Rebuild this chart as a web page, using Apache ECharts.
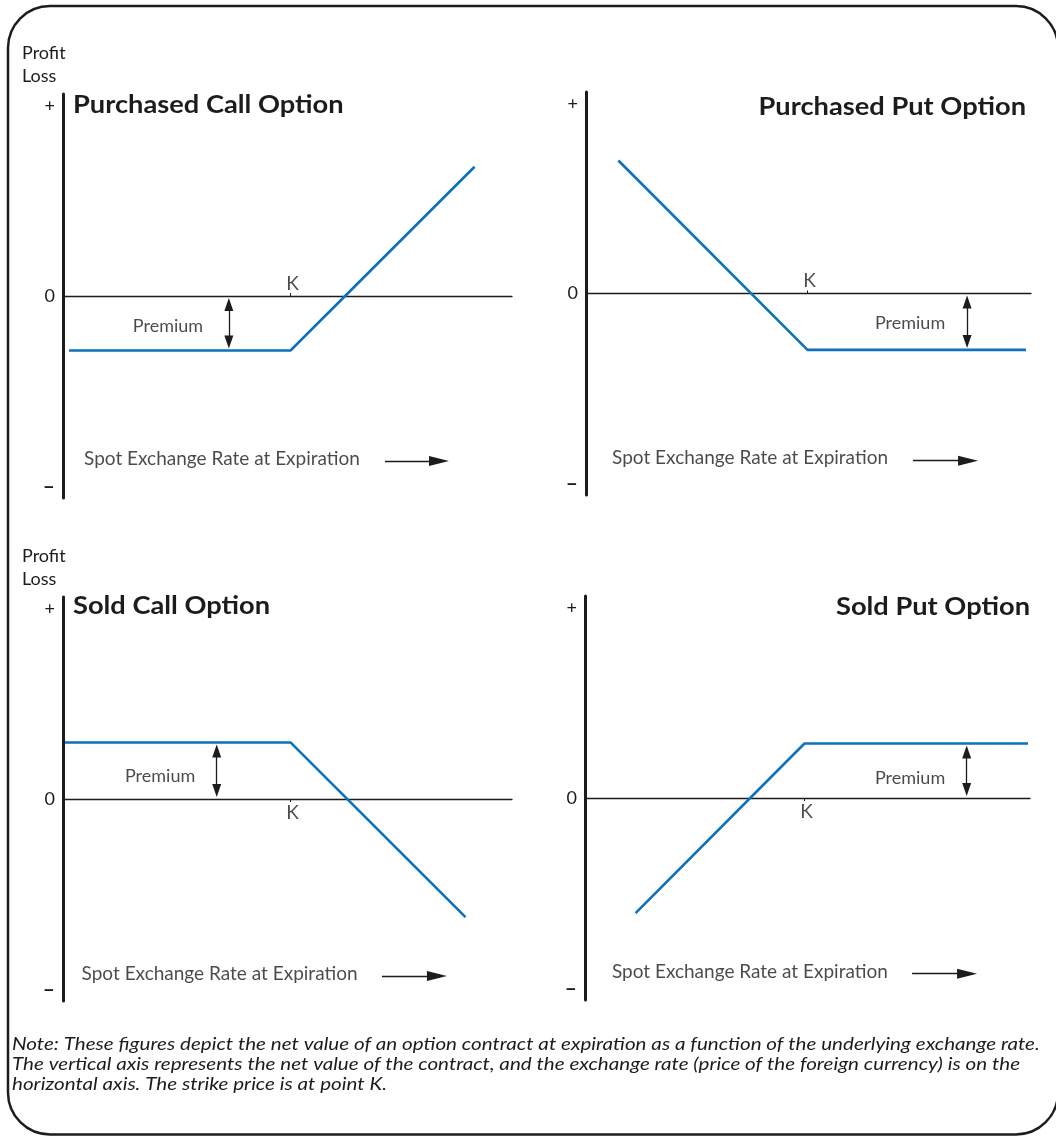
<!DOCTYPE html>
<html>
<head>
<meta charset="utf-8">
<script src="https://cdn.jsdelivr.net/npm/echarts@6.0.0/dist/echarts.min.js"></script>
<style>
html,body{margin:0;padding:0;background:#fff;}
#chart{width:1056px;height:1136px;}
</style>
</head>
<body>
<div id="chart"></div>
<script>
// ---- data ----
const panelTitles = ['Purchased Call Option', 'Purchased Put Option', 'Sold Call Option', 'Sold Put Option'];
const strikeK = [112.5, 109.5, 112.5, 108.5];
const premiums = [27, 28, 28, 27];
const payoffPurchasedCall = [[3, -27], [112.5, -27], [203.5, 64]];
const payoffPurchasedPut = [[16, 66], [109.5, -28], [217.5, -28]];
const payoffSoldCall = [[1, 28], [112.5, 28], [199, -58.5]];
const payoffSoldPut = [[25, -57], [108.5, 27], [219, 27]];
const yTickValues = [94, 0, -94];
const yTickLabels = ['+', '0', '\u2013'];
const xAxisLabel = 'Spot Exchange Rate at Expiration';
const premiumLabel = 'Premium';
const strikeLabel = 'K';
const yAxisNames = ['Profit', 'Loss'];
const noteLines = [
  'Note: These figures depict the net value of an option contract at expiration as a function of the underlying exchange rate.',
  'The vertical axis represents the net value of the contract, and the exchange rate (price of the foreign currency) is on the',
  'horizontal axis. The strike price is at point K.'
];
const payoffs = [payoffPurchasedCall, payoffPurchasedPut, payoffSoldCall, payoffSoldPut];

// ---- layout / style ----
const FONT = 'Lato, "Noto Sans", sans-serif';
const INK = '#1e1b1c';
const BLUE = '#0b72bb';
const layout = [
  {left: 63, top: 94, width: 449, height: 404, xMax: 222, purchased: true, titleX: 73, titleAlign: 'left', titleY: 105,
   premiumText: [51.9, -14.9], premiumArrowX: 82, spotText: [10.4, -80.7], spotArrow: [159.2, 185.9, -81.7]},
  {left: 586, top: 92, width: 445, height: 403, xMax: 220, purchased: true, titleX: 1026, titleAlign: 'right', titleY: 107,
   premiumText: [160.2, -14.6], premiumArrowX: 188.4, spotText: [12.9, -81.6], spotArrow: [161.7, 188.9, -83]},
  {left: 63, top: 597, width: 449, height: 404, xMax: 222, purchased: false, titleX: 73, titleAlign: 'left', titleY: 606,
   premiumText: [48, 11.4], premiumArrowX: 76, spotText: [9.2, -86.6], spotArrow: [157.7, 184.9, -87.6]},
  {left: 585, top: 596, width: 445, height: 404, xMax: 220, purchased: false, titleX: 1030, titleAlign: 'right', titleY: 607,
   premiumText: [160.7, 9.9], premiumArrowX: 188.7, spotText: [13.3, -86.1], spotArrow: [161.7, 188.9, -87]}
];

const grids = [], xAxes = [], yAxes = [], series = [], graphics = [];

layout.forEach((L, i) => {
  grids.push({left: L.left, top: L.top, width: L.width, height: L.height, containLabel: false});
  xAxes.push({
    type: 'value', gridIndex: i, min: 0, max: L.xMax,
    axisLine: {show: true, onZero: true, lineStyle: {color: INK, width: 1.3}},
    axisTick: {show: true, customValues: [strikeK[i]], inside: L.purchased, length: 3, lineStyle: {color: INK, width: 1}},
    axisLabel: {show: false},
    splitLine: {show: false}
  });
  yAxes.push({
    type: 'value', gridIndex: i, min: -100, max: 100,
    axisLine: {show: true, onZero: false, lineStyle: {color: INK, width: 3}},
    axisTick: {show: false},
    axisLabel: {show: true, customValues: yTickValues, margin: 8, color: INK, fontFamily: FONT, fontSize: 18,
      formatter: v => {
        const t = yTickLabels[yTickValues.indexOf(v)];
        return v < 0 ? '{d|' + t + '}' : t;
      },
      rich: {d: {fontWeight: 'bold', fontSize: 21, color: INK, fontFamily: FONT}}},
    splitLine: {show: false}
  });

  const sy = L.height / 200;
  const inset = 8.5 / sy;
  const p = premiums[i];
  const lo = L.purchased ? -p : 0, hi = L.purchased ? 0 : p;

  series.push({
    type: 'line', xAxisIndex: i, yAxisIndex: i, data: payoffs[i], symbol: 'none',
    lineStyle: {color: BLUE, width: 2.6}, itemStyle: {color: BLUE}, silent: true, animation: false, z: 5,
    markLine: {
      silent: true, animation: false, symbol: ['triangle', 'triangle'], symbolSize: [9, 13],
      label: {show: false}, lineStyle: {color: INK, width: 1.3, type: 'solid'},
      data: [
        [{coord: [L.premiumArrowX, hi - inset]}, {coord: [L.premiumArrowX, lo + inset]}],
        [{coord: [L.spotArrow[0], L.spotArrow[2]], symbol: 'none'},
         {coord: [L.spotArrow[1], L.spotArrow[2]], symbol: 'triangle', symbolSize: [10, 20]}]
      ]
    }
  });
  series.push({
    type: 'scatter', xAxisIndex: i, yAxisIndex: i, symbolSize: 0, silent: true, animation: false,
    data: [
      {value: L.premiumText, name: premiumLabel,
       label: {show: true, position: 'inside', formatter: '{b}', color: INK, fontFamily: FONT, fontSize: 18}},
      {value: L.spotText, name: xAxisLabel,
       label: {show: true, position: 'right', distance: 0, formatter: '{b}', color: INK, fontFamily: FONT, fontSize: 19}},
      {value: [strikeK[i], 0], name: strikeLabel,
       label: {show: true, position: L.purchased ? 'top' : 'bottom', distance: L.purchased ? 3 : 4, offset: [2, 0],
         formatter: '{b}', color: INK, fontFamily: FONT, fontSize: 19}}
    ]
  });
  graphics.push({
    type: 'text', x: L.titleX, y: L.titleY, scaleX: 1.09, scaleY: 1,
    style: {text: panelTitles[i], fill: INK, font: 'bold 25px ' + FONT, textAlign: L.titleAlign, textVerticalAlign: 'middle'}
  });
});

// Profit / Loss labels
[[53, 76], [556, 579]].forEach(ys => {
  ys.forEach((y, k) => graphics.push({
    type: 'text', x: 22, y: y,
    style: {text: yAxisNames[k], fill: INK, font: '18px ' + FONT, textAlign: 'left', textVerticalAlign: 'middle'}
  }));
});
// note
noteLines.forEach((t, k) => graphics.push({
  type: 'text', x: 12, y: 1044 + k * 20, scaleX: 1.145, scaleY: 1,
  style: {text: t, fill: INK, font: 'italic 18px ' + FONT, textAlign: 'left', textVerticalAlign: 'middle'}
}));
// frame
graphics.push({
  type: 'rect', shape: {x: 8, y: 6, width: 1050, height: 1128.5, r: 42},
  style: {fill: 'none', stroke: INK, lineWidth: 2.5}, silent: true
});

const chart = echarts.init(document.getElementById('chart'), null, {renderer: 'canvas'});
chart.setOption({
  animation: false,
  backgroundColor: '#fff',
  grid: grids, xAxis: xAxes, yAxis: yAxes, series: series, graphic: graphics
});
</script>
</body>
</html>
